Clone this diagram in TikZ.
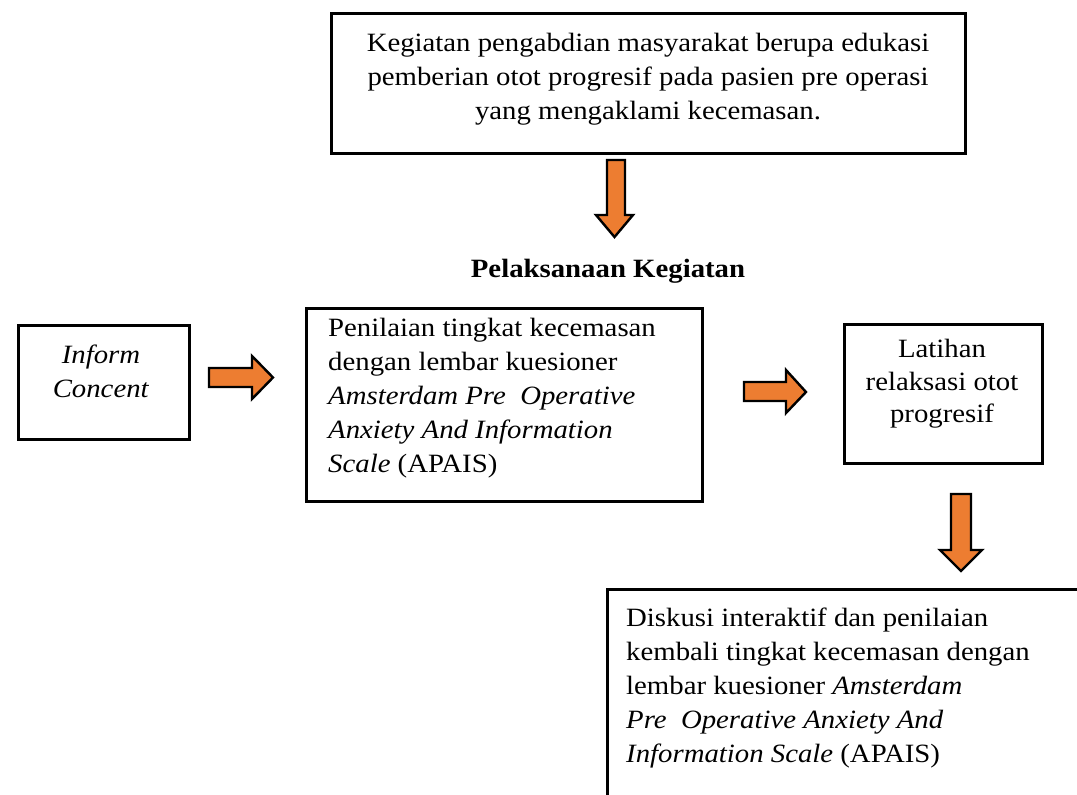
\documentclass[tikz,border=0pt]{standalone}
\usepackage{fontspec}
\setmainfont{Liberation Serif}[FakeStretch=1.09]
\definecolor{arrowfill}{HTML}{ED7D31}
\begin{document}
\begin{tikzpicture}[x=1pt,y=-1pt,
  box/.style={draw=black,line width=2.6pt,rectangle,inner sep=0pt,anchor=north west},
  txt/.style={inner sep=0pt,font=\fontsize{26.4}{34}\selectfont},
  blockarrow/.style={draw=black,line width=2.4pt,fill=arrowfill,line join=miter}]
\useasboundingbox (0,0) rectangle (1077,795);
\clip (0,0) rectangle (1077,795);
% boxes
\node[box,minimum width=634pt,minimum height=140pt] (top) at (330,12) {};
\node[box,minimum width=171pt,minimum height=114pt] (inform) at (17,324) {};
\node[box,minimum width=396pt,minimum height=193pt] (penilaian) at (305,307) {};
\node[box,minimum width=198pt,minimum height=139pt] (latihan) at (843,323) {};
\node[box,minimum width=500pt,minimum height=240pt] (diskusi) at (606,588) {};
% texts
\node[txt,align=center,anchor=north] (toptxt) at (648,33) {Kegiatan pengabdian masyarakat berupa edukasi\\pemberian otot progresif pada pasien pre operasi\\yang mengaklami kecemasan.};
\node[txt,anchor=base] (pelaksanaan) at (608,277) {\textbf{Pelaksanaan Kegiatan}};
\node[txt,align=center,anchor=north] (informtxt) at (101,345) {\textit{Inform}\\\textit{Concent}};
\node[txt,align=left,anchor=north west] (penilaiantxt) at (328,318) {Penilaian tingkat kecemasan\\dengan lembar kuesioner\\\textit{Amsterdam Pre\ \ Operative}\\\textit{Anxiety And Information}\\\textit{Scale} (APAIS)};
\node[txt,align=center,anchor=north,font=\fontsize{26.4}{32.5}\selectfont] (latihantxt) at (942,339) {Latihan\\relaksasi otot\\progresif};
\node[txt,align=left,anchor=north west] (diskusitxt) at (626,608) {Diskusi interaktif dan penilaian\\kembali tingkat kecemasan dengan\\lembar kuesioner \textit{Amsterdam}\\\textit{Pre\ \ Operative Anxiety And}\\\textit{Information Scale} (APAIS)};
% block arrows
\draw[blockarrow] (607,160) -- (625,160) -- (625,215) -- (633,215) -- (614.5,237) -- (596,215) -- (607,215) -- cycle;
\draw[blockarrow] (209,368) -- (252,368) -- (252,356) -- (273,377.5) -- (252,399) -- (252,387) -- (209,387) -- cycle;
\draw[blockarrow] (744,382) -- (786,382) -- (786,370) -- (806,392) -- (786,413) -- (786,401) -- (744,401) -- cycle;
\draw[blockarrow] (951,494) -- (971,494) -- (971,550) -- (982,550) -- (961,571) -- (940,550) -- (951,550) -- cycle;
\end{tikzpicture}
\end{document}
